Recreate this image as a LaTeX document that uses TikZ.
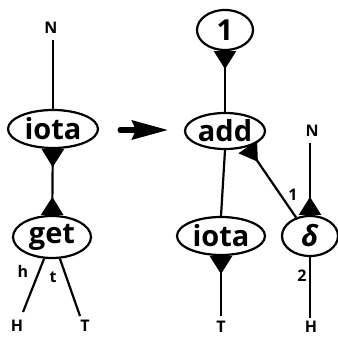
\documentclass[tikz,border=0pt]{standalone}
\usepackage{fontspec}
\setmainfont{Open Sans}
\usetikzlibrary{shapes.geometric,arrows.meta}
\begin{document}
\begin{tikzpicture}[x=1pt,y=-1pt,
  agent/.style={ellipse,draw,line width=2.2pt,inner sep=0pt,font=\fontsize{29}{29}\selectfont\bfseries},
  wire/.style={line width=2.2pt},
  pstart/.style={{Triangle[reversed,length=18pt,width=22pt]}-},
  pboth/.style={{Triangle[reversed,length=18pt,width=22pt]}-{Triangle[reversed,length=18pt,width=22pt]}},
  lbl/.style={font=\fontsize{16}{16}\selectfont\bfseries,inner sep=0pt},
  bigarrow/.style={line width=5pt,line cap=round,-{Stealth[length=36pt,width=19pt,inset=4pt]}},
]
\useasboundingbox (0,0) rectangle (337,339);
% left side
\node[agent,minimum width=90pt,minimum height=38pt] (iotaL) at (53,129) {iota};
\node[agent,minimum width=78pt,minimum height=42pt] (get) at (52,237) {get};
\node[lbl] (NL) at (51,28) {N};
\coordinate (NLe) at (53,40);
\draw[wire] (NLe) -- (iotaL);
\draw[wire,pboth] (iotaL) -- (get);
\coordinate (HLe) at (23,312);
\coordinate (TLe) at (80,316);
\draw[wire] (get.-110) -- (HLe);
\draw[wire] (get.-70) -- (TLe);
\node[lbl] (hL) at (23,271) {h};
\node[lbl] (tL) at (53,277) {t};
\node[lbl] (HL) at (17,326) {H};
\node[lbl] (TL) at (85,326) {T};
% rewrite arrow
\coordinate (arrS) at (120,130);
\coordinate (arrE) at (168,130);
\draw[bigarrow] (arrS) -- (arrE);
% right side
\node[agent,minimum width=56pt,minimum height=40pt] (one) at (225,30) {1};
\node[agent,minimum width=80pt,minimum height=36pt] (add) at (225,131) {add};
\node[agent,minimum width=88pt,minimum height=38pt] (iotaR) at (221,236) {iota};
\node[agent,minimum width=56pt,minimum height=40pt] (delta) at (310,236) {\itshape δ};
\draw[wire,pstart] (one) -- (add);
\draw[wire] (add.south) -- (iotaR.north);
\coordinate (TRe) at (221,316);
\draw[wire,pstart] (iotaR) -- (TRe);
\node[lbl] (TR) at (221,327) {T};
\coordinate (NRe) at (310,143);
\draw[wire,pstart] (delta) -- (NRe);
\node[lbl] (NR) at (312,131) {N};
\draw[wire,pstart] (add.-35) -- (delta.127);
\node[lbl] (one1) at (293,195) {1};
\coordinate (HRe) at (310,318);
\draw[wire] (delta) -- (HRe);
\node[lbl] (two) at (302,276) {2};
\node[lbl] (HR) at (311,327) {H};
\end{tikzpicture}
\end{document}
